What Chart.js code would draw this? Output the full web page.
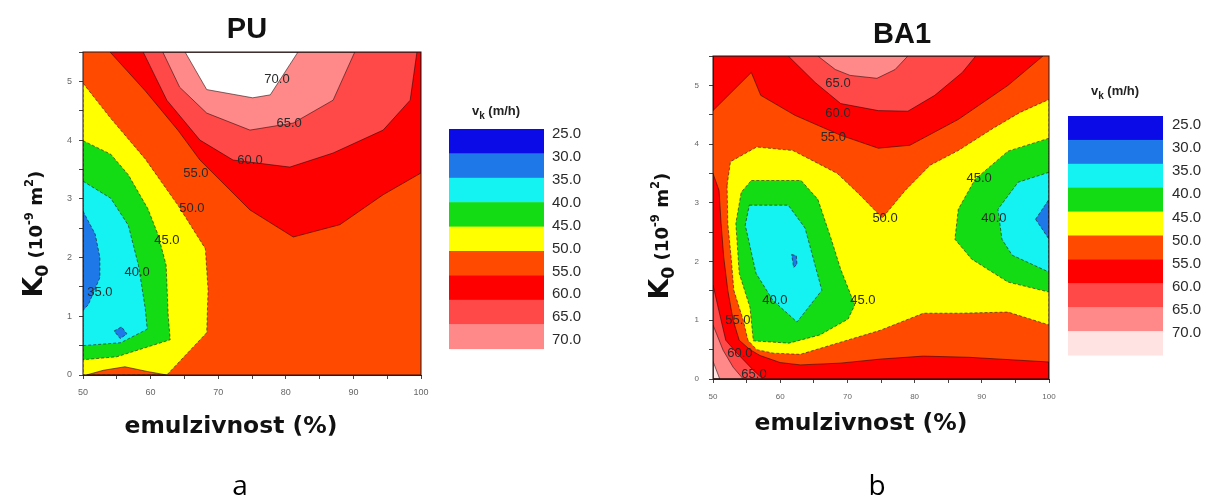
<!DOCTYPE html>
<html>
<head>
<meta charset="utf-8">
<script src="https://cdn.jsdelivr.net/npm/chart.js@4.4.1/dist/chart.umd.min.js"></script>
<style>
  html, body { margin: 0; padding: 0; background: #fff; }
  #wrapA { position: absolute; left: 0; top: 0; width: 610px; height: 497px; }
  #wrapB { position: absolute; left: 610px; top: 0; width: 596px; height: 497px; }
</style>
</head>
<body>
<div id="wrapA"><canvas id="chartA"></canvas></div>
<div id="wrapB"><canvas id="chartB"></canvas></div>
<script>
// contour levels (m/h) and the colour of each band starting at that level
const levels = [25, 30, 35, 40, 45, 50, 55, 60, 65, 70];
const levelColors = ['#0b0be8', '#1e78e8', '#14f2f2', '#14dc14', '#ffff00', '#ff4a00', '#ff0000', '#ff4848', '#ff8888', '#ffe2e2'];

// --- PU : contour regions, [emulzivnost %, K0] ---
const puAbove55 = [[54.0,5.5],[59.2,4.84],[64.1,4.16],[67.3,3.66],[74.7,2.81],[81.1,2.35],[88.0,2.56],[94.4,3.07],[100,3.44],[100,5.5]];
const puAbove60 = [[58.9,5.5],[62.4,4.68],[67.3,4.0],[72.2,3.66],[80.6,3.54],[87.0,3.78],[94.4,4.17],[98.4,4.68],[99.4,5.5]];
const puAbove65 = [[61.8,5.5],[64.3,4.9],[68.3,4.46],[74.7,4.17],[81.1,4.29],[87.0,4.68],[90.2,5.5]];
const puAbove70 = [[65.1,5.5],[68.3,4.86],[75.1,4.72],[77.7,4.77],[81.8,5.5]];
const puBelow50 = [[50,4.97],[54.1,4.37],[59.2,3.68],[64.1,2.88],[68.1,2.15],[68.5,1.45],[68.3,0.72],[62.4,0],[50,0]];
const puBump50 = [[50.5,0],[53,0.08],[56.2,0.14],[59.5,0.06],[62.4,0]];
const puBelow45 = [[50,3.99],[54.1,3.76],[56.7,3.41],[59.6,2.83],[61.1,2.39],[62.3,1.87],[62.6,1.02],[62.9,0.6],[55.0,0.31],[50,0.26]];
const puBelow40 = [[50,3.30],[54.1,3.01],[56.7,2.55],[58.2,1.87],[59.2,1.14],[59.5,0.78],[55.6,0.55],[50,0.5]];
const puBelow35 = [[50,2.79],[51.8,2.4],[52.5,2.0],[52.5,1.66],[50.8,1.2],[50,1.1]];
const puIsland35 = [[54.6,0.75],[55.7,0.82],[56.5,0.7],[55.5,0.62]];
const puLabels = [[78.7,5.03,'70.0'],[80.5,4.29,'65.0'],[74.7,3.66,'60.0'],[66.7,3.44,'55.0'],[66.1,2.84,'50.0'],[62.4,2.30,'45.0'],[58.0,1.74,'40.0'],[52.5,1.41,'35.0']];

// --- BA1 : contour regions ---
const baBelow50 = [[52.1,3.3],[52.6,3.7],[56.5,3.95],[61.9,3.89],[68.5,3.50],[71.9,3.13],[75.2,2.74],[78.6,3.21],[82.3,3.64],[86.5,3.89],[91.7,4.27],[95.7,4.54],[100,4.76],[100,0.92],[93.9,1.14],[86.8,1.12],[81.3,1.12],[74.9,0.83],[68.5,0.61],[63,0.42],[59,0.44],[56.5,0.5],[55.2,0.66],[54.5,1.0],[53.1,1.51],[52.7,2.07],[52.2,2.65]];
const baTop55 = [[50,4.57],[55.7,5.22],[57.1,4.83],[62.2,4.49],[69.0,4.15],[74.6,3.93],[79.3,3.98],[86.5,4.42],[93.9,5.0],[99.1,5.5],[50,5.5]];
const baTop60 = [[61.2,5.5],[65.2,5.05],[69.0,4.69],[74.6,4.57],[79.0,4.56],[83.0,4.83],[87.1,5.22],[89.1,5.5]];
const baTop65 = [[65.6,5.5],[68.2,5.27],[70.4,5.17],[74.4,5.12],[77.1,5.27],[79.0,5.5]];
const baLow55 = [[50,3.5],[50.9,3.21],[51.2,2.65],[51.6,2.07],[52.2,1.51],[53.0,1.0],[53.9,0.66],[55.5,0.5],[57,0.4],[60,0.28],[63,0.24],[68.9,0.27],[75,0.34],[81.3,0.39],[88,0.37],[100,0.29],[100,0],[50,0]];
const baLow60 = [[50,1.6],[50.6,1.3],[51.2,1.0],[51.9,0.66],[53.4,0.46],[56.0,0.15],[57.4,0],[50,0]];
const baLow65 = [[50,0.92],[51.5,0.49],[53.0,0.2],[54.5,0],[50,0]];
const baLow70 = [[50,0.3],[51,0],[50,0]];
const baLeft45 = [[55.7,3.38],[63.1,3.38],[65.6,3.06],[67.6,2.38],[69.0,1.87],[71.1,1.26],[70.1,1.02],[65.9,0.75],[61.3,0.61],[56.0,0.65],[55.5,1.22],[53.9,1.80],[53.4,2.65],[54.2,3.18]];
const baLeft40 = [[55.4,2.96],[61.2,2.96],[63.7,2.57],[66.2,1.51],[62.5,0.97],[58.9,1.34],[56.4,1.80],[54.8,2.62]];
const baLeft35 = [[61.7,2.12],[62.4,2.1],[62.5,1.95],[62.0,1.9]];
const baRight45 = [[100,4.1],[93.9,3.88],[89.0,3.40],[86.5,2.89],[86.0,2.38],[88.5,2.04],[93.9,1.65],[100,1.48]];
const baRight40 = [[100,3.52],[95.4,3.35],[92.4,2.89],[93.0,2.38],[94.5,2.11],[100,1.82]];
const baRight35 = [[98.0,2.72],[100,3.06],[100,2.38]];
const baLabels = [[68.6,5.03,'65.0'],[68.6,4.52,'60.0'],[67.9,4.12,'55.0'],[75.6,2.74,'50.0'],[89.6,3.42,'45.0'],[91.8,2.74,'40.0'],[59.2,1.34,'40.0'],[72.3,1.34,'45.0'],[53.7,1.0,'55.0'],[54.0,0.44,'60.0'],[56.1,0.07,'65.0']];

// drawing order: [region, band level] (null = left white)
const puLayers = [
  [puBelow50, 45], [puBump50, 50], [puBelow45, 40], [puBelow40, 35], [puBelow35, 30], [puIsland35, 30],
  [puAbove55, 55], [puAbove60, 60], [puAbove65, 65], [puAbove70, null]
];
const baLayers = [
  [baBelow50, 45], [baTop55, 55], [baTop60, 60], [baTop65, 65],
  [baLow55, 55], [baLow60, 60], [baLow65, 65], [baLow70, 70],
  [baLeft45, 40], [baLeft40, 35], [baLeft35, 30],
  [baRight45, 40], [baRight40, 35], [baRight35, 30]
];

function bandColor(lv) {
  return lv === null ? '#ffffff' : levelColors[levels.indexOf(lv)];
}

function toDatasets(layers) {
  return layers.map(([pts, lv]) => {
    const data = pts.map(([x, y]) => ({x, y}));
    data.push({x: pts[0][0], y: pts[0][1]});
    return {
      data,
      showLine: true,
      pointRadius: 0,
      fill: false,
      tension: 0,
      backgroundColor: bandColor(lv),
      borderColor: 'rgba(30,10,10,0.7)',
      borderWidth: 0.8,
      borderDash: (lv !== null && lv < 50) ? [3, 2] : []
    };
  });
}

// fill each contour region from the points the library placed
const polyFill = {
  id: 'polyFill',
  beforeDatasetsDraw(chart) {
    const {ctx, chartArea: a} = chart;
    ctx.save();
    ctx.beginPath();
    ctx.rect(a.left, a.top, a.width, a.height);
    ctx.clip();
    ctx.fillStyle = bandColor(50);
    ctx.fillRect(a.left, a.top, a.width, a.height);
    chart.data.datasets.forEach((ds, i) => {
      const pts = chart.getDatasetMeta(i).data;
      ctx.beginPath();
      pts.forEach((p, j) => j ? ctx.lineTo(p.x, p.y) : ctx.moveTo(p.x, p.y));
      ctx.closePath();
      ctx.fillStyle = ds.backgroundColor;
      ctx.fill();
    });
    ctx.restore();
  }
};

function richText(ctx, parts, cx, cy, length, rotate) {
  const fam = '"DejaVu Sans", sans-serif';
  let total = 0;
  parts.forEach(p => { ctx.font = 'bold ' + p.size + 'px ' + fam; total += ctx.measureText(p.t).width; });
  const k = length ? length / total : 1;
  ctx.save();
  ctx.translate(cx, cy);
  if (rotate) ctx.rotate(-Math.PI / 2);
  ctx.textBaseline = 'alphabetic';
  ctx.textAlign = 'left';
  ctx.fillStyle = '#111';
  let pos = -total * k / 2;
  parts.forEach(p => {
    ctx.font = 'bold ' + (p.size * k) + 'px ' + fam;
    ctx.fillText(p.t, pos, (p.dy || 0) * k);
    pos += ctx.measureText(p.t).width;
  });
  ctx.restore();
}

const overlay = {
  id: 'overlay',
  afterDatasetsDraw(chart, args, o) {
    const {ctx, chartArea: a, scales: {x, y}} = chart;
    ctx.save();
    ctx.strokeStyle = '#2b1414';
    ctx.lineWidth = 1;
    ctx.strokeRect(a.left, a.top, a.width, a.height);

    // contour labels
    ctx.font = '13px "Liberation Sans", Arial, sans-serif';
    ctx.fillStyle = '#2a2a2a';
    ctx.textAlign = 'center';
    ctx.textBaseline = 'middle';
    o.labels.forEach(([vx, vy, t]) => ctx.fillText(t, x.getPixelForValue(vx), y.getPixelForValue(vy)));

    // title
    ctx.font = 'bold 29px "Liberation Sans", Arial, sans-serif';
    ctx.fillStyle = '#111';
    ctx.textBaseline = 'alphabetic';
    ctx.fillText(o.title, a.left + o.titleDx, a.top + o.titleDy);

    // panel letter
    ctx.font = '28px "Open Sans", sans-serif';
    ctx.fillStyle = '#000';
    ctx.fillText(o.letter, a.left + o.letterDx, a.bottom + o.letterDy);

    // x title
    richText(ctx, [{t: 'emulzivnost (%)', size: 20}], a.left + o.xTitleDx, a.bottom + o.xTitleDy, 213, false);

    // y title K0 (10^-9 m^2)
    richText(ctx, [
      {t: 'K', size: 28}, {t: '0', size: 18, dy: 6}, {t: ' (10', size: 19},
      {t: '-9', size: 12, dy: -9}, {t: ' m', size: 19}, {t: '2', size: 12, dy: -9}, {t: ')', size: 19}
    ], a.left + o.yTitleDx, a.top + o.yTitleDy, 127, true);

    // colour bar
    const bx = a.right + o.barDx, by = a.top + o.barDy;
    for (let i = 0; i < o.barCount; i++) {
      ctx.fillStyle = levelColors[i];
      ctx.fillRect(bx, by + i * o.barH, 95, o.barH + 0.5);
    }
    ctx.font = '15px "Liberation Sans", Arial, sans-serif';
    ctx.fillStyle = '#2a2a2a';
    ctx.textAlign = 'left';
    ctx.textBaseline = 'middle';
    levels.forEach((lv, i) => ctx.fillText(lv.toFixed(1), a.right + o.lblDx, a.top + o.lblDy + i * o.lblStep));

    // colour bar title v_k (m/h)
    const tx = a.right + o.barTitleDx, ty = a.top + o.barTitleDy;
    ctx.fillStyle = '#222';
    ctx.textBaseline = 'alphabetic';
    ctx.font = 'bold 13px "Liberation Sans", Arial, sans-serif';
    const w1 = ctx.measureText('v').width;
    ctx.font = 'bold 10px "Liberation Sans", Arial, sans-serif';
    const w2 = ctx.measureText('k').width;
    ctx.font = 'bold 13px "Liberation Sans", Arial, sans-serif';
    const w3 = ctx.measureText(' (m/h)').width;
    let sx = tx - (w1 + w2 + w3) / 2;
    ctx.fillText('v', sx, ty);
    ctx.font = 'bold 10px "Liberation Sans", Arial, sans-serif';
    ctx.fillText('k', sx + w1, ty + 4);
    ctx.font = 'bold 13px "Liberation Sans", Arial, sans-serif';
    ctx.fillText(' (m/h)', sx + w1 + w2, ty);
    ctx.restore();
  }
};

function axes(tickSize, xPad, yPad) {
  const tickFont = {size: tickSize, family: '"Liberation Sans", Arial, sans-serif'};
  return {
    x: {
      type: 'linear', min: 50, max: 100,
      ticks: {
        stepSize: 5, autoSkip: false, maxRotation: 0, padding: xPad, font: tickFont, color: '#666',
        callback: v => (v % 10 === 0 ? String(v) : '')
      },
      grid: {drawOnChartArea: false, drawTicks: true, tickLength: 4, color: '#444'},
      border: {color: '#222'},
      afterFit: s => { s.height = 22; }
    },
    y: {
      type: 'linear', min: 0, max: 5.5,
      ticks: {
        stepSize: 0.5, autoSkip: false, padding: yPad, font: tickFont, color: '#666',
        callback: v => (Math.abs(v - Math.round(v)) < 1e-6 ? String(Math.round(v)) : '')
      },
      grid: {drawOnChartArea: false, drawTicks: true, tickLength: 4, color: '#444'},
      border: {color: '#222'},
      afterFit: s => { s.width = 22; }
    }
  };
}

function makeChart(id, layers, padding, scales, overlayOpts) {
  return new Chart(document.getElementById(id), {
    type: 'scatter',
    data: {datasets: toDatasets(layers)},
    options: {
      responsive: true,
      maintainAspectRatio: false,
      animation: false,
      layout: {padding},
      scales,
      plugins: {
        legend: {display: false},
        tooltip: {enabled: false},
        overlay: overlayOpts
      }
    },
    plugins: [polyFill, overlay]
  });
}

makeChart('chartA', puLayers, {left: 61, right: 189, top: 52, bottom: 100}, axes(9, 8, 7), {
  labels: puLabels, title: 'PU', titleDx: 164, titleDy: -14,
  letter: 'a', letterDx: 157, letterDy: 120,
  xTitleDx: 148, xTitleDy: 58, yTitleDx: -41, yTitleDy: 182,
  barDx: 28, barDy: 77, barH: 24.4, barCount: 9,
  lblDx: 131, lblDy: 82, lblStep: 22.9,
  barTitleDx: 75, barTitleDy: 63
});

makeChart('chartB', baLayers, {left: 81, right: 157, top: 56, bottom: 96}, axes(8, 9, 10), {
  labels: baLabels, title: 'BA1', titleDx: 189, titleDy: -13,
  letter: 'b', letterDx: 164, letterDy: 116,
  xTitleDx: 148, xTitleDy: 51, yTitleDx: -45, yTitleDy: 180,
  barDx: 19, barDy: 60, barH: 23.9, barCount: 10,
  lblDx: 123, lblDy: 69, lblStep: 23.1,
  barTitleDx: 66, barTitleDy: 39
});
</script>
</body>
</html>
